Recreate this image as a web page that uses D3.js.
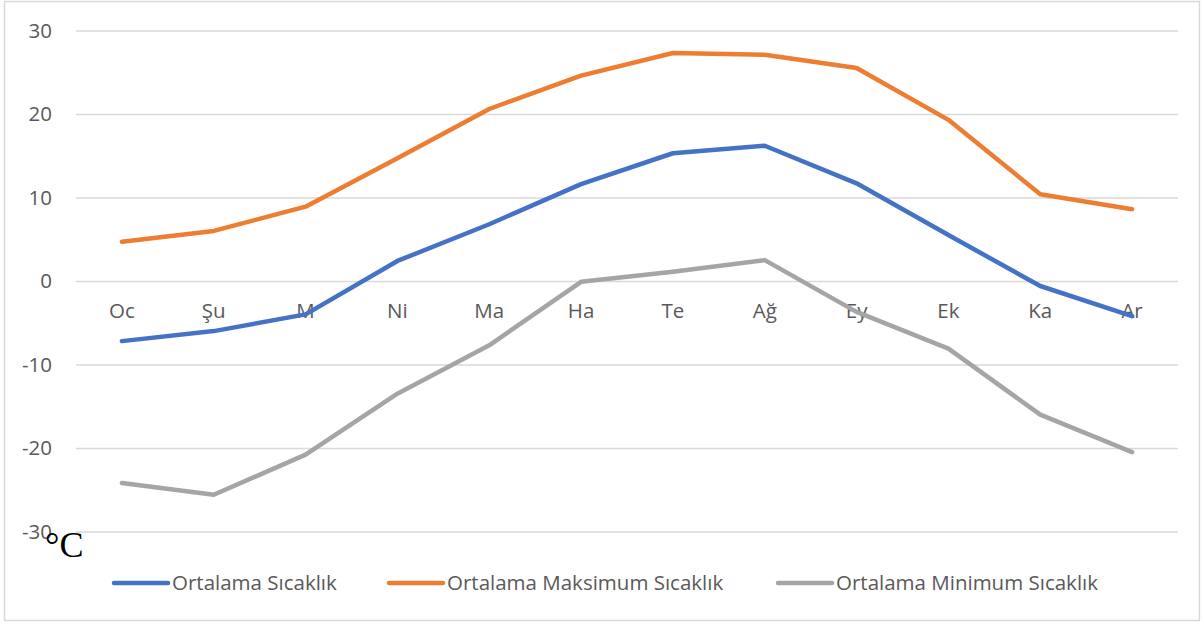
<!DOCTYPE html>
<html>
<head>
<meta charset="utf-8">
<script src="https://cdn.jsdelivr.net/npm/d3@7"></script>
<style>
  html, body { margin: 0; padding: 0; background: #fff; }
  svg { display: block; }
</style>
</head>
<body>
<svg id="chart" width="1204" height="624"></svg>
<script>
// Monthly temperature data (°C)
const months = ["Oc", "Şu", "M", "Ni", "Ma", "Ha", "Te", "Ağ", "Ey", "Ek", "Ka", "Ar"];
const avgTemp = [-7.2, -6.0, -4.0, 2.4, 6.8, 11.6, 15.3, 16.2, 11.7, 5.5, -0.6, -4.2];
const maxTemp = [4.7, 6.0, 8.9, 14.7, 20.6, 24.6, 27.3, 27.1, 25.5, 19.3, 10.4, 8.6];
const minTemp = [-24.2, -25.6, -20.8, -13.5, -7.7, -0.1, 1.1, 2.5, -3.7, -8.1, -16.0, -20.5];
const yTicks = [-30, -20, -10, 0, 10, 20, 30];
const seriesNames = ["Ortalama Sıcaklık", "Ortalama Maksimum Sıcaklık", "Ortalama Minimum Sıcaklık"];
const seriesColors = ["#4472C4", "#ED7D31", "#A5A5A5"];

const series = [avgTemp, maxTemp, minTemp].map((values, i) => ({
  name: seriesNames[i], color: seriesColors[i], values
}));

const svg = d3.select("#chart");
const font = "'Open Sans', 'Noto Sans', sans-serif";
const fontSize = "20.5px";

// outer frame
svg.append("rect")
  .attr("x", 4.5).attr("y", 1.5).attr("width", 1195).attr("height", 619)
  .attr("fill", "#fff").attr("stroke", "#d9d9d9").attr("stroke-width", 1.5);

const plot = { left: 76, right: 1178, top: 30.5, bottom: 531.5 };

const x = d3.scaleBand().domain(months).range([plot.left, plot.right]);
const y = d3.scaleLinear().domain([-30, 30]).range([plot.bottom, plot.top]);

// gridlines + y labels (plain hyphen for negatives)
const yAxis = d3.axisLeft(y).tickValues(yTicks)
  .tickSize(-(plot.right - plot.left)).tickPadding(24).tickFormat(d => String(d));
const gy = svg.append("g").attr("transform", `translate(${plot.left},0)`).call(yAxis);
gy.select(".domain").remove();
gy.selectAll(".tick line").attr("stroke", "#d9d9d9").attr("stroke-width", 1.5);
gy.selectAll(".tick text").attr("fill", "#595959").style("font-family", font).style("font-size", fontSize);

// category labels sit along the zero line
const xAxis = d3.axisBottom(x).tickSize(0).tickPadding(22);
const gx = svg.append("g").attr("transform", `translate(0,${y(0)})`).call(xAxis);
gx.select(".domain").remove();
gx.selectAll(".tick text").attr("fill", "#595959").style("font-family", font).style("font-size", fontSize);

// series lines
const line = d3.line()
  .x((d, i) => x(months[i]) + x.bandwidth() / 2)
  .y(d => y(d));

svg.append("g").selectAll("path").data(series).join("path")
  .attr("d", d => line(d.values))
  .attr("fill", "none")
  .attr("stroke", d => d.color)
  .attr("stroke-width", 4.5)
  .attr("stroke-linejoin", "round")
  .attr("stroke-linecap", "round");

// unit label
svg.append("text")
  .attr("x", 45).attr("y", 557)
  .attr("fill", "#000")
  .style("font-family", "'Liberation Serif', 'DejaVu Serif', serif")
  .style("font-size", "36px")
  .text("°C");

// legend
const legendX = [114, 389, 778];
const lg = svg.append("g").selectAll("g").data(series).join("g")
  .attr("transform", (d, i) => `translate(${legendX[i]},583)`);
lg.append("line")
  .attr("x1", 0).attr("x2", 54).attr("y1", 0).attr("y2", 0)
  .attr("stroke", d => d.color).attr("stroke-width", 4.5).attr("stroke-linecap", "round");
lg.append("text")
  .attr("x", 58).attr("y", 0).attr("dy", "0.35em")
  .attr("fill", "#595959")
  .style("font-family", font).style("font-size", fontSize)
  .text(d => d.name);
</script>
</body>
</html>
